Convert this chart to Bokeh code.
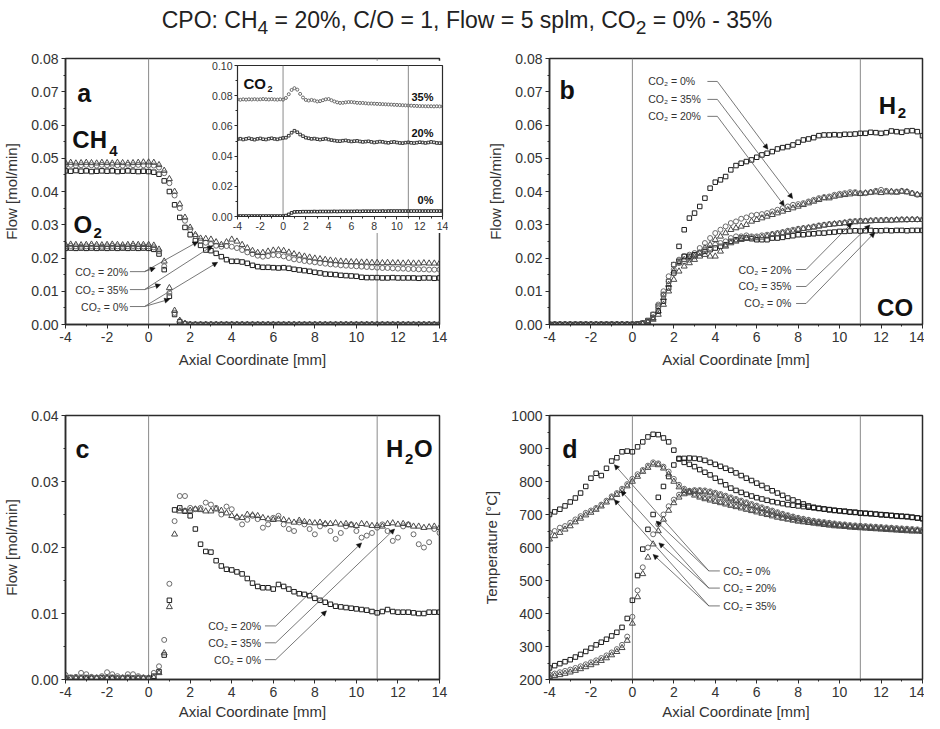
from bokeh.plotting import figure
from bokeh.models import (Range1d, FixedTicker, NumeralTickFormatter, Span, Label,
                          Arrow, NormalHead, Div)
from bokeh.layouts import column, row
from bokeh.embed import file_html
from bokeh.resources import INLINE

# ---------------- data ----------------
X = [-4, -3.75, -3.5, -3.25, -3, -2.75, -2.5, -2.25,
     -2, -1.75, -1.5, -1.25, -1, -0.75, -0.5, -0.25,
     0, 0.25, 0.5, 0.75, 1, 1.25, 1.5, 1.75,
     2, 2.25, 2.5, 2.75, 3, 3.25, 3.5, 3.75,
     4, 4.25, 4.5, 4.75, 5, 5.25, 5.5, 5.75,
     6, 6.25, 6.5, 6.75, 7, 7.25, 7.5, 7.75,
     8, 8.25, 8.5, 8.75, 9, 9.25, 9.5, 9.75,
     10, 10.25, 10.5, 10.75, 11, 11.25, 11.5, 11.75,
     12, 12.25, 12.5, 12.75, 13, 13.25, 13.5, 13.75,
     14]

X_TICKS = [-4, -2, 0, 2, 4, 6, 8, 10, 12, 14]
X_MINOR = [-3, -1, 1, 3, 5, 7, 9, 11, 13]
FLOW_TICKS_AB = [0.0, 0.01, 0.02, 0.03, 0.04, 0.05, 0.06, 0.07, 0.08]
FLOW_MINOR_AB = [0.005, 0.015, 0.025, 0.035, 0.045, 0.055, 0.065, 0.075]
FLOW_TICKS_C = [0.0, 0.01, 0.02, 0.03, 0.04]
FLOW_MINOR_C = [0.005, 0.015, 0.025, 0.035]
TEMP_TICKS = [200, 300, 400, 500, 600, 700, 800, 900, 1000]
TEMP_MINOR = [250, 350, 450, 550, 650, 750, 850, 950]
INSET_Y_TICKS = [0.0, 0.02, 0.04, 0.06, 0.08, 0.10]
INSET_Y_MINOR = [0.01, 0.03, 0.05, 0.07, 0.09]
REACTOR_BOUNDS = [0, 11]

# panel a: CH4
CH4_0 = [0.0462, 0.0461, 0.0463, 0.0461, 0.0462, 0.0460, 0.0461, 0.0462,
         0.0461, 0.0462, 0.0460, 0.0461, 0.0462, 0.0461, 0.0460, 0.0461,
         0.0460, 0.0458, 0.0452, 0.0432, 0.0400, 0.0360, 0.0322, 0.0292,
         0.0270, 0.0252, 0.0238, 0.0224, 0.0222, 0.0214, 0.0204, 0.0195,
         0.0190, 0.0190, 0.0188, 0.0184, 0.0178, 0.0174, 0.0172, 0.0172,
         0.0171, 0.0170, 0.0171, 0.0169, 0.0166, 0.0164, 0.0162, 0.0160,
         0.0157, 0.0155, 0.0152, 0.0151, 0.0150, 0.0148, 0.0147, 0.0146,
         0.0145, 0.0142, 0.0141, 0.0141, 0.0141, 0.0140, 0.0140, 0.0141,
         0.0140, 0.0140, 0.0140, 0.0140, 0.0139, 0.0140, 0.0140, 0.0139,
         0.0140]
CH4_20 = [0.0479, 0.0480, 0.0478, 0.0479, 0.0480, 0.0479, 0.0478, 0.0480,
          0.0479, 0.0480, 0.0479, 0.0478, 0.0480, 0.0479, 0.0480, 0.0479,
          0.0479, 0.0478, 0.0472, 0.0455, 0.0425, 0.0388, 0.0350, 0.0312,
          0.0285, 0.0266, 0.0252, 0.0246, 0.0242, 0.0237, 0.0234, 0.0236,
          0.0234, 0.0230, 0.0224, 0.0217, 0.0212, 0.0207, 0.0204, 0.0206,
          0.0209, 0.0208, 0.0205, 0.0200, 0.0196, 0.0194, 0.0191, 0.0189,
          0.0187, 0.0185, 0.0183, 0.0181, 0.0180, 0.0178, 0.0177, 0.0176,
          0.0175, 0.0174, 0.0173, 0.0172, 0.0171, 0.0170, 0.0170, 0.0169,
          0.0168, 0.0168, 0.0167, 0.0167, 0.0166, 0.0166, 0.0165, 0.0165,
          0.0165]
CH4_35 = [0.0486, 0.0487, 0.0485, 0.0486, 0.0487, 0.0486, 0.0485, 0.0487,
          0.0486, 0.0485, 0.0487, 0.0486, 0.0485, 0.0486, 0.0487, 0.0488,
          0.0488, 0.0487, 0.0480, 0.0463, 0.0438, 0.0400, 0.0362, 0.0322,
          0.0292, 0.0270, 0.0259, 0.0258, 0.0256, 0.0248, 0.0240, 0.0248,
          0.0256, 0.0250, 0.0240, 0.0230, 0.0222, 0.0216, 0.0216, 0.0220,
          0.0223, 0.0224, 0.0222, 0.0217, 0.0212, 0.0208, 0.0205, 0.0202,
          0.0199, 0.0197, 0.0195, 0.0193, 0.0191, 0.0190, 0.0189, 0.0188,
          0.0188, 0.0187, 0.0187, 0.0186, 0.0186, 0.0185, 0.0186, 0.0185,
          0.0185, 0.0184, 0.0185, 0.0184, 0.0184, 0.0185, 0.0184, 0.0184,
          0.0184]
# panel a: O2
O2_0 = [0.0229, 0.0230, 0.0229, 0.0230, 0.0229, 0.0230, 0.0229, 0.0230,
        0.0229, 0.0230, 0.0229, 0.0230, 0.0229, 0.0230, 0.0229, 0.0230,
        0.0229, 0.0226, 0.0212, 0.0165, 0.0085, 0.0030, 0.0008, 0.0002] + [0.0] * 49
O2_20 = [0.0235, 0.0236, 0.0235, 0.0234, 0.0235, 0.0236, 0.0235, 0.0234,
         0.0235, 0.0236, 0.0235, 0.0234, 0.0235, 0.0236, 0.0235, 0.0235,
         0.0235, 0.0232, 0.0220, 0.0175, 0.0095, 0.0035, 0.0010, 0.0003] + [0.0] * 49
O2_35 = [0.0240, 0.0241, 0.0240, 0.0239, 0.0240, 0.0241, 0.0240, 0.0239,
         0.0240, 0.0241, 0.0240, 0.0239, 0.0240, 0.0241, 0.0240, 0.0240,
         0.0240, 0.0238, 0.0226, 0.0190, 0.0110, 0.0042, 0.0012, 0.0003] + [0.0] * 49
# inset: CO2
CO2_35 = [0.0775, 0.0773, 0.0776, 0.0774, 0.0776, 0.0775, 0.0777, 0.0775,
          0.0776, 0.0778, 0.0776, 0.0775, 0.0777, 0.0775, 0.0774, 0.0776,
          0.0774, 0.0785, 0.0810, 0.0838, 0.0850, 0.0840, 0.0812, 0.0788,
          0.0772, 0.0768, 0.0772, 0.0768, 0.0762, 0.0764, 0.0770, 0.0776,
          0.0778, 0.0770, 0.0762, 0.0756, 0.0752, 0.0753, 0.0756, 0.0758,
          0.0758, 0.0756, 0.0753, 0.0752, 0.0752, 0.0750, 0.0748, 0.0748,
          0.0747, 0.0746, 0.0745, 0.0744, 0.0743, 0.0742, 0.0741, 0.0740,
          0.0739, 0.0738, 0.0737, 0.0736, 0.0735, 0.0734, 0.0733, 0.0732,
          0.0731, 0.0731, 0.0730, 0.0730, 0.0730, 0.0729, 0.0730, 0.0729,
          0.0729]
CO2_20 = [0.0512, 0.0515, 0.0510, 0.0514, 0.0518, 0.0513, 0.0509, 0.0514,
          0.0517, 0.0512, 0.0510, 0.0515, 0.0518, 0.0514, 0.0511, 0.0516,
          0.0520, 0.0522, 0.0535, 0.0555, 0.0568, 0.0558, 0.0543, 0.0532,
          0.0522, 0.0518, 0.0514, 0.0516, 0.0512, 0.0509, 0.0512, 0.0515,
          0.0510, 0.0506, 0.0503, 0.0500, 0.0499, 0.0502, 0.0504, 0.0500,
          0.0497, 0.0499, 0.0501, 0.0497, 0.0494, 0.0496, 0.0498, 0.0494,
          0.0490, 0.0493, 0.0496, 0.0494, 0.0490, 0.0488, 0.0492, 0.0494,
          0.0490, 0.0487, 0.0486, 0.0489, 0.0491, 0.0488, 0.0486, 0.0489,
          0.0492, 0.0490, 0.0487, 0.0490, 0.0494, 0.0491, 0.0487, 0.0486,
          0.0486]
CO2_0 = [0.0003, 0.0003, 0.0003, 0.0003, 0.0003, 0.0003, 0.0003, 0.0003,
         0.0003, 0.0003, 0.0003, 0.0003, 0.0003, 0.0003, 0.0003, 0.0003,
         0.0003, 0.0006, 0.0014, 0.0024, 0.0030, 0.0031, 0.0031, 0.0032,
         0.0032, 0.0032, 0.0032, 0.0033, 0.0032, 0.0033, 0.0033, 0.0033,
         0.0033, 0.0033, 0.0034, 0.0033, 0.0034, 0.0034, 0.0034, 0.0034,
         0.0034, 0.0034, 0.0035, 0.0034, 0.0035, 0.0035, 0.0035, 0.0035,
         0.0035, 0.0035, 0.0035, 0.0036, 0.0035, 0.0036, 0.0036, 0.0036,
         0.0036, 0.0036, 0.0036, 0.0036, 0.0036, 0.0036, 0.0036, 0.0036,
         0.0036, 0.0036, 0.0036, 0.0036, 0.0036, 0.0036, 0.0036, 0.0036,
         0.0036]
# panel b: H2 and CO
H2_0 = [0.0] * 16 + [
    0.0000, 0.0001, 0.0004, 0.0012, 0.0030, 0.0055, 0.0090, 0.0130,
    0.0180, 0.0235, 0.0285, 0.0320, 0.0335, 0.0355, 0.0380, 0.0410,
    0.0428, 0.0435, 0.0445, 0.0465, 0.0478, 0.0485, 0.0490, 0.0495,
    0.0503, 0.0510, 0.0515, 0.0520, 0.0528, 0.0532, 0.0535, 0.0540,
    0.0548, 0.0555, 0.0558, 0.0562, 0.0568, 0.0570, 0.0570, 0.0571,
    0.0570, 0.0572, 0.0572, 0.0573, 0.0575, 0.0575, 0.0578, 0.0577,
    0.0575, 0.0577, 0.0582, 0.0580, 0.0578, 0.0582, 0.0583, 0.0580,
    0.0568]
H2_20 = [0.0] * 16 + [
    0.0000, 0.0001, 0.0003, 0.0010, 0.0030, 0.0060, 0.0100, 0.0145,
    0.0180, 0.0195, 0.0205, 0.0210, 0.0215, 0.0230, 0.0245, 0.0260,
    0.0275, 0.0285, 0.0295, 0.0305, 0.0310, 0.0318, 0.0322, 0.0328,
    0.0330, 0.0332, 0.0335, 0.0340, 0.0345, 0.0350, 0.0355, 0.0360,
    0.0362, 0.0365, 0.0370, 0.0375, 0.0380, 0.0383, 0.0385, 0.0390,
    0.0393, 0.0395, 0.0398, 0.0398, 0.0395, 0.0395, 0.0398, 0.0402,
    0.0405, 0.0402, 0.0398, 0.0400, 0.0402, 0.0400, 0.0395, 0.0390,
    0.0390]
H2_35 = [0.0] * 16 + [
    0.0000, 0.0000, 0.0002, 0.0008, 0.0020, 0.0040, 0.0080, 0.0120,
    0.0160, 0.0185, 0.0195, 0.0200, 0.0205, 0.0215, 0.0230, 0.0240,
    0.0255, 0.0265, 0.0275, 0.0285, 0.0290, 0.0295, 0.0300, 0.0310,
    0.0315, 0.0320, 0.0325, 0.0330, 0.0335, 0.0340, 0.0345, 0.0350,
    0.0355, 0.0360, 0.0365, 0.0370, 0.0375, 0.0380, 0.0380, 0.0385,
    0.0388, 0.0390, 0.0392, 0.0394, 0.0393, 0.0395, 0.0397, 0.0398,
    0.0396, 0.0398, 0.0400, 0.0397, 0.0400, 0.0398, 0.0394, 0.0391,
    0.0390]
CO_0 = [0.0] * 16 + [
    0.0000, 0.0001, 0.0003, 0.0008, 0.0020, 0.0040, 0.0070, 0.0110,
    0.0155, 0.0190, 0.0205, 0.0205, 0.0210, 0.0215, 0.0220, 0.0225,
    0.0230, 0.0235, 0.0240, 0.0250, 0.0255, 0.0260, 0.0260, 0.0258,
    0.0255, 0.0255, 0.0255, 0.0260, 0.0260, 0.0262, 0.0265, 0.0267,
    0.0270, 0.0270, 0.0272, 0.0273, 0.0275, 0.0275, 0.0277, 0.0278,
    0.0280, 0.0280, 0.0281, 0.0282, 0.0281, 0.0282, 0.0283, 0.0282,
    0.0282, 0.0283, 0.0282, 0.0283, 0.0283, 0.0282, 0.0283, 0.0283,
    0.0283]
CO_20 = [0.0] * 16 + [
    0.0000, 0.0001, 0.0004, 0.0010, 0.0020, 0.0050, 0.0090, 0.0130,
    0.0165, 0.0185, 0.0190, 0.0195, 0.0205, 0.0215, 0.0225, 0.0230,
    0.0240, 0.0245, 0.0250, 0.0260, 0.0265, 0.0265, 0.0268, 0.0265,
    0.0265, 0.0268, 0.0270, 0.0272, 0.0275, 0.0278, 0.0282, 0.0285,
    0.0288, 0.0290, 0.0292, 0.0295, 0.0298, 0.0300, 0.0302, 0.0303,
    0.0305, 0.0307, 0.0310, 0.0311, 0.0312, 0.0312, 0.0313, 0.0314,
    0.0314, 0.0315, 0.0314, 0.0315, 0.0316, 0.0315, 0.0316, 0.0316,
    0.0316]
CO_35 = [0.0] * 16 + [
    0.0000, 0.0000, 0.0002, 0.0006, 0.0015, 0.0030, 0.0060, 0.0100,
    0.0135, 0.0160, 0.0175, 0.0185, 0.0195, 0.0205, 0.0210, 0.0205,
    0.0205, 0.0220, 0.0235, 0.0245, 0.0250, 0.0255, 0.0260, 0.0260,
    0.0260, 0.0262, 0.0265, 0.0270, 0.0272, 0.0275, 0.0278, 0.0280,
    0.0285, 0.0288, 0.0290, 0.0292, 0.0295, 0.0298, 0.0300, 0.0302,
    0.0303, 0.0305, 0.0307, 0.0308, 0.0310, 0.0310, 0.0311, 0.0312,
    0.0312, 0.0313, 0.0313, 0.0314, 0.0314, 0.0315, 0.0315, 0.0315,
    0.0315]
# panel c: H2O
H2O_0 = [0.0002, 0.0003, 0.0002, 0.0002, 0.0003, 0.0002, 0.0002, 0.0003,
         0.0002, 0.0003, 0.0002, 0.0002, 0.0003, 0.0002, 0.0002, 0.0002,
         0.0002, 0.0005, 0.0012, 0.0037, 0.0120, 0.0257, 0.0260, 0.0255,
         0.0248, 0.0228, 0.0205, 0.0194, 0.0193, 0.0180, 0.0172, 0.0167,
         0.0166, 0.0163, 0.0160, 0.0153, 0.0146, 0.0141, 0.0139, 0.0139,
         0.0137, 0.0144, 0.0141, 0.0137, 0.0133, 0.0130, 0.0129, 0.0127,
         0.0123, 0.0120, 0.0117, 0.0114, 0.0111, 0.0110, 0.0109, 0.0108,
         0.0107, 0.0106, 0.0105, 0.0103, 0.0101, 0.0103, 0.0106, 0.0103,
         0.0102, 0.0102, 0.0102, 0.0101, 0.0100, 0.0100, 0.0102, 0.0102,
         0.0102]
H2O_20 = [0.0007, 0.0003, 0.0004, 0.0010, 0.0008, 0.0004, 0.0003, 0.0005,
          0.0011, 0.0008, 0.0005, 0.0003, 0.0008, 0.0008, 0.0005, 0.0003,
          0.0002, 0.0010, 0.0020, 0.0060, 0.0145, 0.0240, 0.0278, 0.0278,
          0.0260, 0.0258, 0.0260, 0.0268, 0.0265, 0.0260, 0.0250, 0.0262,
          0.0258, 0.0245, 0.0235, 0.0242, 0.0248, 0.0243, 0.0230, 0.0235,
          0.0245, 0.0248, 0.0235, 0.0228, 0.0225, 0.0238, 0.0235, 0.0228,
          0.0220, 0.0232, 0.0235, 0.0225, 0.0213, 0.0222, 0.0232, 0.0235,
          0.0225, 0.0215, 0.0218, 0.0222, 0.0230, 0.0235, 0.0225, 0.0210,
          0.0215, 0.0232, 0.0235, 0.0220, 0.0205, 0.0200, 0.0208, 0.0228,
          0.0222]
H2O_35 = [0.0002, 0.0001, 0.0002, 0.0002, 0.0001, 0.0002, 0.0002, 0.0001,
          0.0002, 0.0002, 0.0001, 0.0002, 0.0002, 0.0001, 0.0002, 0.0002,
          0.0002, 0.0003, 0.0010, 0.0040, 0.0110, 0.0220, 0.0255, 0.0255,
          0.0256, 0.0258, 0.0257, 0.0255, 0.0255, 0.0258, 0.0256, 0.0252,
          0.0248, 0.0246, 0.0245, 0.0250, 0.0249, 0.0248, 0.0245, 0.0243,
          0.0242, 0.0243, 0.0242, 0.0240, 0.0238, 0.0241, 0.0239, 0.0238,
          0.0237, 0.0238, 0.0236, 0.0236, 0.0237, 0.0235, 0.0236, 0.0234,
          0.0233, 0.0236, 0.0235, 0.0233, 0.0233, 0.0232, 0.0236, 0.0237,
          0.0235, 0.0236, 0.0234, 0.0232, 0.0232, 0.0230, 0.0231, 0.0232,
          0.0230]
# panel d: temperatures (gas phase "TG", catalyst surface "TS")
TG_0 = [235, 242, 248, 254, 260, 268, 276, 285,
        295, 305, 313, 322, 332, 343, 358, 385,
        440, 515, 595, 655, 700, 752, 785, 815,
        850, 868, 870, 871, 870, 868, 864, 858,
        852, 846, 840, 834, 826, 818, 810, 803,
        795, 788, 780, 772, 765, 758, 750, 744,
        738, 732, 726, 722, 719, 717, 715, 713,
        711, 710, 708, 707, 705, 704, 703, 701,
        700, 699, 697, 696, 695, 694, 692, 690,
        688]
TS_0 = [700, 708, 716, 726, 738, 750, 765, 785,
        810, 825, 818, 840, 862, 872, 890, 892,
        890, 905, 920, 935, 943, 942, 932, 920,
        895, 870, 858, 852, 845, 836, 828, 820,
        810, 800, 790, 780, 773, 767, 761, 756,
        751, 747, 743, 739, 736, 733, 730, 728,
        726, 724, 722, 720, 718, 716, 714, 712,
        711, 709, 707, 706, 704, 703, 702, 701,
        699, 698, 697, 695, 694, 693, 691, 689,
        687]
TG_20 = [215, 218, 222, 226, 230, 235, 240, 246,
         252, 258, 265, 273, 282, 292, 305, 330,
         390, 470, 540, 600, 640, 670, 700, 725,
         745, 760, 768, 772, 774, 774, 773, 770,
         766, 762, 757, 752, 747, 742, 737, 732,
         727, 722, 717, 712, 707, 702, 698, 694,
         690, 687, 684, 681, 679, 677, 675, 673,
         671, 670, 668, 667, 666, 665, 664, 663,
         662, 661, 660, 659, 658, 657, 656, 655,
         654]
TG_35 = [208, 211, 214, 218, 222, 227, 232, 238,
         244, 250, 257, 265, 274, 284, 296, 318,
         370, 450, 520, 570, 610, 650, 685, 712,
         735, 752, 762, 768, 770, 770, 768, 765,
         761, 757, 752, 747, 742, 737, 732, 727,
         722, 717, 712, 707, 702, 698, 694, 690,
         686, 683, 680, 677, 675, 673, 671, 669,
         667, 666, 664, 663, 662, 661, 660, 659,
         658, 657, 656, 655, 654, 653, 652, 651,
         650]
TS_20 = [645, 650, 660, 665, 675, 685, 695, 705,
         712, 720, 730, 742, 755, 765, 778, 792,
         808, 822, 835, 848, 858, 855, 845, 830,
         808, 790, 778, 770, 763, 757, 752, 748,
         744, 740, 736, 732, 728, 724, 720, 716,
         712, 708, 704, 700, 696, 692, 689, 686,
         683, 680, 678, 676, 674, 672, 670, 668,
         667, 666, 664, 663, 662, 661, 660, 659,
         658, 657, 656, 655, 654, 653, 652, 651,
         650]
TS_35 = [625, 635, 645, 655, 665, 677, 688, 698,
         706, 715, 725, 737, 750, 760, 772, 786,
         800, 815, 830, 842, 852, 850, 840, 822,
         800, 783, 772, 765, 758, 752, 747, 743,
         739, 735, 731, 727, 723, 719, 715, 711,
         707, 703, 699, 695, 691, 688, 685, 682,
         679, 677, 675, 673, 671, 669, 667, 665,
         664, 663, 661, 660, 659, 658, 657, 656,
         655, 654, 653, 652, 651, 650, 649, 649,
         648]

# annotation callouts (text, text anchor x, y of each text, horizontal leader, arrow tips)
A_NOTE = ["CO\u2082 = 20%", "CO\u2082 = 35%", "CO\u2082 = 0%"]
A_NOTE_Y = [0.0159, 0.0105, 0.0054]
A_NOTE_X, A_LEAD, A_JUNC = -0.99, (-0.9, -0.2), -0.2
A_TIPS = [[(2.37, 0.0249), (0.32, 0.0170)], [(3.08, 0.0237), (0.58, 0.0120)],
          [(3.32, 0.0187), (1.01, 0.0076)]]
B_TOP_NOTE = ["CO\u2082 = 0%", "CO\u2082 = 35%", "CO\u2082 = 20%"]
B_TOP_Y = [0.0731, 0.0677, 0.0626]
B_TOP_X, B_TOP_LEAD, B_TOP_JUNC = 0.76, (3.62, 4.1), 4.1
B_TOP_TIPS = [[(6.54, 0.0527)], [(7.73, 0.0379)], [(7.33, 0.0357)]]
B_BOT_NOTE = ["CO\u2082 = 20%", "CO\u2082 = 35%", "CO\u2082 = 0%"]
B_BOT_Y = [0.01654, 0.01143, 0.00632]
B_BOT_X, B_BOT_LEAD, B_BOT_JUNC = 7.67, (7.9, 8.38), 8.38
B_BOT_TIPS = [[(10.59, 0.0305)], [(11.46, 0.0299)], [(11.7, 0.0277)]]
C_NOTE = ["CO\u2082 = 20%", "CO\u2082 = 35%", "CO\u2082 = 0%"]
C_NOTE_Y = [0.00812, 0.00556, 0.00301]
C_NOTE_X, C_LEAD, C_JUNC = 5.41, (5.6, 6.12), 6.12
C_TIPS = [[(10.25, 0.0207)], [(11.84, 0.0228)], [(8.56, 0.0104)]]
D_NOTE = ["CO\u2082 = 0%", "CO\u2082 = 20%", "CO\u2082 = 35%"]
D_NOTE_Y = [529, 477, 423]
D_NOTE_X, D_LEAD, D_JUNC = 4.39, (3.69, 4.22), 3.69
D_TIPS = [[(-0.87, 851), (1.15, 680)], [(-0.55, 772), (1.28, 614)],
          [(-0.87, 745), (1.0, 579)]]

# ---------------- styling ----------------
FONT = "Liberation Sans"
INK = "#2b2b2b"
SQ = dict(marker="square", size=4.5, line_color="#1c1c1c", fill_color=None, line_width=1)
CI = dict(marker="circle", size=5, line_color="#6a6a6a", fill_color=None, line_width=1)
TR = dict(marker="triangle", size=6, line_color="#474747", fill_color=None, line_width=1)


def base_fig(width, height, left, right, top, bottom, yr, yticks, yminor, yfmt, ylabel,
             xlab_standoff):
    p = figure(width=width, height=height, x_range=Range1d(-4, 14), y_range=Range1d(*yr),
               output_backend="svg", toolbar_location=None,
               min_border_left=left, min_border_right=right,
               min_border_top=top, min_border_bottom=bottom)
    p.grid.visible = False
    p.background_fill_color = "white"
    p.border_fill_color = "white"
    p.outline_line_color = INK
    p.outline_line_width = 1.5
    p.xaxis.ticker = FixedTicker(ticks=X_TICKS, minor_ticks=X_MINOR)
    p.xaxis.formatter = NumeralTickFormatter(format="0")
    p.yaxis.ticker = FixedTicker(ticks=yticks, minor_ticks=yminor)
    p.yaxis.formatter = NumeralTickFormatter(format=yfmt)
    p.xaxis.axis_label = "Axial Coordinate [mm]"
    p.yaxis.axis_label = ylabel
    for ax in p.axis:
        ax.axis_line_color = INK
        ax.axis_line_width = 1.5
        ax.major_tick_line_color = INK
        ax.minor_tick_line_color = INK
        ax.major_tick_in = 0
        ax.major_tick_out = 4
        ax.minor_tick_in = 0
        ax.minor_tick_out = 2
        ax.major_label_text_font = FONT
        ax.major_label_text_font_size = "14px"
        ax.major_label_text_color = "#333333"
        ax.major_label_standoff = 3
        ax.axis_label_text_font = FONT
        ax.axis_label_text_font_size = "15px"
        ax.axis_label_text_font_style = "normal"
        ax.axis_label_text_color = "#333333"
    p.xaxis.axis_label_standoff = xlab_standoff
    p.yaxis.axis_label_standoff = 8
    for v in REACTOR_BOUNDS:
        p.add_layout(Span(location=v, dimension="height", line_color="#8a8a8a",
                          line_width=1, level="underlay"))
    return p


def label(p, text, x, y, size, bold=True, align="left", baseline="alphabetic",
          xo=0, yo=0, color="#111111"):
    p.add_layout(Label(x=x, y=y, text=text, x_offset=xo, y_offset=yo,
                       text_font=FONT, text_font_size=size,
                       text_font_style="bold" if bold else "normal",
                       text_align=align, text_baseline=baseline, text_color=color))


def callouts(p, texts, tx, ys, align, lead, junc, tips):
    for t, y in zip(texts, ys):
        label(p, t, tx, y, "10.5px", bold=False, align=align, baseline="middle",
              color="#333333")
    p.segment(x0=[lead[0]] * len(ys), y0=ys, x1=[lead[1]] * len(ys), y1=ys,
              line_color="#555555", line_width=0.8)
    for y, tlist in zip(ys, tips):
        for tip in tlist:
            p.add_layout(Arrow(end=NormalHead(size=5, fill_color="#111111",
                                              line_color="#111111", line_width=0.5),
                               x_start=junc, y_start=y, x_end=tip[0], y_end=tip[1],
                               line_color="#555555", line_width=0.8))


# ---------------- panels ----------------
title = Div(text="CPO: CH<sub>4</sub> = 20%, C/O = 1, Flow = 5 splm, CO<sub>2</sub> = 0% - 35%",
            width=924, height=30,
            styles={"font-family": "'Liberation Sans', Arial, sans-serif", "font-size": "23px",
                    "text-align": "center", "color": "#222222", "line-height": "30px"})

fa = base_fig(462, 334, 62, 23, 18, 50, (0, 0.08), FLOW_TICKS_AB, FLOW_MINOR_AB, "0.00",
              "Flow [mol/min]", 6)
for ys, st in ((CH4_0, SQ), (CH4_20, CI), (CH4_35, TR), (O2_0, SQ), (O2_20, CI), (O2_35, TR)):
    fa.scatter(X, ys, **st)
label(fa, "a", -3.43, 0.0695, "25px")
label(fa, "CH", -3.67, 0.0556, "24px")
label(fa, "4", -3.67, 0.0556, "15px", xo=37, yo=-11)
label(fa, "O", -3.62, 0.0301, "24px")
label(fa, "2", -3.62, 0.0301, "15px", xo=20, yo=-9)
callouts(fa, A_NOTE, A_NOTE_X, A_NOTE_Y, "right", A_LEAD, A_JUNC, A_TIPS)

fb = base_fig(462, 334, 87, 2, 18, 50, (0, 0.08), FLOW_TICKS_AB, FLOW_MINOR_AB, "0.00",
              "Flow [mol/min]", 6)
for ys, st in ((H2_0, SQ), (H2_20, CI), (H2_35, TR), (CO_0, SQ), (CO_20, CI), (CO_35, TR)):
    fb.scatter(X, ys, **st)
label(fb, "b", -3.52, 0.0704, "25px")
label(fb, "H", 11.89, 0.0659, "24px")
label(fb, "2", 11.89, 0.0659, "15px", xo=19, yo=-8)
label(fb, "CO", 11.81, 0.0051, "24px")
callouts(fb, B_TOP_NOTE, B_TOP_X, B_TOP_Y, "left", B_TOP_LEAD, B_TOP_JUNC, B_TOP_TIPS)
callouts(fb, B_BOT_NOTE, B_BOT_X, B_BOT_Y, "right", B_BOT_LEAD, B_BOT_JUNC, B_BOT_TIPS)

fc = base_fig(462, 349, 62, 23, 41, 44, (0, 0.04), FLOW_TICKS_C, FLOW_MINOR_C, "0.00",
              "Flow [mol/min]", 3)
for ys, st in ((H2O_0, SQ), (H2O_20, CI), (H2O_35, TR)):
    fc.scatter(X, ys, **st)
label(fc, "c", -3.52, 0.035, "25px")
label(fc, "H", 11.42, 0.035, "24px")
label(fc, "2", 11.42, 0.035, "15px", xo=19, yo=-10)
label(fc, "O", 11.42, 0.035, "24px", xo=28)
callouts(fc, C_NOTE, C_NOTE_X, C_NOTE_Y, "right", C_LEAD, C_JUNC, C_TIPS)

fd = base_fig(462, 349, 87, 2, 41, 44, (200, 1000), TEMP_TICKS, TEMP_MINOR, "0",
              "Temperature [\u00b0C]", 3)
for ys, st in ((TG_0, SQ), (TS_0, SQ), (TG_20, CI), (TS_20, CI), (TG_35, TR), (TS_35, TR)):
    fd.scatter(X, ys, **st)
label(fd, "d", -3.38, 900, "25px")
callouts(fd, D_NOTE, D_NOTE_X, D_NOTE_Y, "left", D_LEAD, D_JUNC, D_TIPS)

# inset (CO2 flows) placed over panel a
fi = figure(width=243, height=173, x_range=Range1d(-4, 14), y_range=Range1d(0, 0.10),
            output_backend="svg", toolbar_location=None,
            min_border_left=32, min_border_right=6, min_border_top=5, min_border_bottom=17,
            styles={"position": "absolute", "left": "205px", "top": "60px", "z-index": "5"})
fi.grid.visible = False
fi.background_fill_color = "white"
fi.border_fill_color = "white"
fi.outline_line_color = INK
fi.outline_line_width = 1.2
fi.xaxis.ticker = FixedTicker(ticks=X_TICKS, minor_ticks=X_MINOR)
fi.xaxis.formatter = NumeralTickFormatter(format="0")
fi.yaxis.ticker = FixedTicker(ticks=INSET_Y_TICKS, minor_ticks=INSET_Y_MINOR)
fi.yaxis.formatter = NumeralTickFormatter(format="0.00")
for ax in fi.axis:
    ax.axis_line_color = INK
    ax.major_tick_line_color = INK
    ax.minor_tick_line_color = INK
    ax.major_tick_in = 0
    ax.major_tick_out = 3
    ax.minor_tick_in = 0
    ax.minor_tick_out = 2
    ax.major_label_text_font = FONT
    ax.major_label_text_font_size = "10.5px"
    ax.major_label_text_color = "#333333"
    ax.major_label_standoff = 2
for v in REACTOR_BOUNDS:
    fi.add_layout(Span(location=v, dimension="height", line_color="#8a8a8a",
                       line_width=1, level="underlay"))
fi.scatter(X, CO2_35, marker="circle", size=3, line_color="#6a6a6a", fill_color=None)
fi.scatter(X, CO2_20, marker="square", size=2.6, line_color="#3a3a3a", fill_color=None)
fi.scatter(X, CO2_0, marker="square", size=2.6, line_color="#2a2a2a", fill_color=None)
label(fi, "CO", -3.47, 0.0881, "15px")
label(fi, "2", -3.47, 0.0881, "9px", xo=24, yo=-6)
label(fi, "35%", 13.21, 0.079, "11px", align="right", baseline="middle")
label(fi, "20%", 13.21, 0.0552, "11px", align="right", baseline="middle")
label(fi, "0%", 13.21, 0.0111, "11px", align="right", baseline="middle")

layout = column(title, row(fa, fb), row(fc, fd), fi)

with open("out.html", "w") as f:
    f.write(file_html(layout, INLINE))
